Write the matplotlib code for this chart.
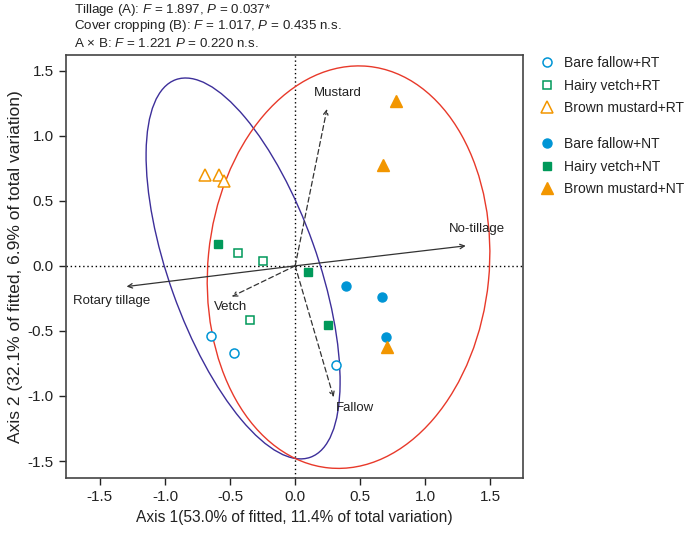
import matplotlib
matplotlib.use("Agg")
import matplotlib.pyplot as plt
import numpy as np
from matplotlib.lines import Line2D
from matplotlib.patches import Ellipse

plt.rcParams["font.family"] = ["Liberation Sans", "DejaVu Sans"]
plt.rcParams["mathtext.fontset"] = "custom"
plt.rcParams["mathtext.rm"] = "Liberation Sans"
plt.rcParams["mathtext.it"] = "Liberation Sans:italic"
plt.rcParams["axes.unicode_minus"] = False

# sample scores on axes 1 and 2
bf_rt_x = [-0.646, -0.467, 0.31]
bf_rt_y = [-0.54, -0.67, -0.76]
hv_rt_x = [-0.44, -0.246, -0.344]
hv_rt_y = [0.10, 0.038, -0.415]
bm_rt_x = [-0.695, -0.585, -0.549]
bm_rt_y = [0.695, 0.695, 0.654]
bf_nt_x = [0.392, 0.664, 0.70]
bf_nt_y = [-0.151, -0.241, -0.549]
hv_nt_x = [-0.592, 0.10, 0.254]
hv_nt_y = [0.169, -0.051, -0.456]
bm_nt_x = [0.777, 0.675, 0.705]
bm_nt_y = [1.27, 0.777, -0.62]

# biplot vectors
vec_names = ["No-tillage", "Rotary tillage", "Mustard", "Vetch", "Fallow"]
vec_x = [1.31, -1.295, 0.244, -0.487, 0.295]
vec_y = [0.154, -0.159, 1.205, -0.236, -1.01]
vec_dashed = [False, False, True, True, True]
vec_label_x = [1.40, -1.41, 0.33, -0.50, 0.46]
vec_label_y = [0.28, -0.27, 1.33, -0.32, -1.095]

# tillage group ellipses: centre x, centre y, width, height, angle
ell_rt = (-0.40, -0.02, 3.08, 1.14, 109.6)
ell_nt = (0.41, -0.01, 3.10, 2.16, 84.4)

BLUE = "#0095d5"
GREEN = "#00995a"
ORANGE = "#f29600"
TXT = "#222222"

fig = plt.figure(figsize=(6.85, 5.33), dpi=100)
ax = fig.add_axes([0.0964, 0.1032, 0.6671, 0.7936])

ax.axhline(0, color="black", lw=1.0, ls=(0, (1, 2)), zorder=1)
ax.axvline(0, color="black", lw=1.0, ls=(0, (1, 2)), zorder=1)

for (cx, cy, w, h, ang), col in [(ell_rt, "#3d2f9a"), (ell_nt, "#e8392a")]:
    ax.add_patch(Ellipse((cx, cy), w, h, angle=ang, fill=False, edgecolor=col, lw=1.0, zorder=2))

for name, x, y, dashed, lx, ly in zip(vec_names, vec_x, vec_y, vec_dashed, vec_label_x, vec_label_y):
    ax.annotate(
        "", xy=(x, y), xytext=(0, 0),
        arrowprops=dict(arrowstyle="->", color="#333333", lw=0.9,
                        linestyle=(0, (4, 2.5)) if dashed else "-",
                        shrinkA=0, shrinkB=0, mutation_scale=8),
        zorder=3,
    )
    ax.text(lx, ly, name, ha="center", va="center", fontsize=9.5, color=TXT, zorder=4)

ms = 6.5
ax.plot(bf_rt_x, bf_rt_y, "o", ms=ms, mfc="white", mec=BLUE, mew=1.1, ls="none", zorder=5)
ax.plot(hv_rt_x, hv_rt_y, "s", ms=ms - 0.5, mfc="white", mec=GREEN, mew=1.1, ls="none", zorder=5)
ax.plot(bm_rt_x, bm_rt_y, "^", ms=ms + 1.5, mfc="white", mec=ORANGE, mew=1.1, ls="none", zorder=5)
ax.plot(bf_nt_x, bf_nt_y, "o", ms=ms, color=BLUE, ls="none", zorder=5)
ax.plot(hv_nt_x, hv_nt_y, "s", ms=ms - 0.5, color=GREEN, ls="none", zorder=5)
ax.plot(bm_nt_x, bm_nt_y, "^", ms=ms + 1.5, color=ORANGE, ls="none", zorder=5)

ax.set_xlim(-1.76, 1.75)
ax.set_ylim(-1.63, 1.62)
ax.set_xticks([-1.5, -1.0, -0.5, 0.0, 0.5, 1.0, 1.5])
ax.set_yticks([-1.5, -1.0, -0.5, 0.0, 0.5, 1.0, 1.5])
ax.tick_params(direction="out", length=5, width=1.0, labelsize=11, colors=TXT, pad=4)
for s in ax.spines.values():
    s.set_color("#444444")
    s.set_linewidth(1.2)
ax.set_xlabel("Axis 1(53.0% of fitted, 11.4% of total variation)", fontsize=11.2, color=TXT, labelpad=4)
ax.set_ylabel("Axis 2 (32.1% of fitted, 6.9% of total variation)", fontsize=12.5, color=TXT, labelpad=3)

header = [
    "Tillage (A): $F$ = 1.897, $P$ = 0.037*",
    "Cover cropping (B): $F$ = 1.017, $P$ = 0.435 n.s.",
    "A \u00d7 B: $F$ = 1.221 $P$ = 0.220 n.s.",
]
for i, line in enumerate(header):
    fig.text(0.108, 1 - (10 + 16.5 * i) / 533, line, ha="left", va="center", fontsize=9.6, color=TXT)

rt_handles = [
    Line2D([], [], marker="o", ls="none", ms=ms, mfc="white", mec=BLUE, mew=1.1),
    Line2D([], [], marker="s", ls="none", ms=ms - 0.5, mfc="white", mec=GREEN, mew=1.1),
    Line2D([], [], marker="^", ls="none", ms=ms + 1.5, mfc="white", mec=ORANGE, mew=1.1),
]
nt_handles = [
    Line2D([], [], marker="o", ls="none", ms=ms, color=BLUE),
    Line2D([], [], marker="s", ls="none", ms=ms - 0.5, color=GREEN),
    Line2D([], [], marker="^", ls="none", ms=ms + 1.5, color=ORANGE),
]
rt_labels = ["Bare fallow+RT", "Hairy vetch+RT", "Brown mustard+RT"]
nt_labels = ["Bare fallow+NT", "Hairy vetch+NT", "Brown mustard+NT"]

kw = dict(loc="upper left", frameon=False, fontsize=10, handlelength=1.0, handletextpad=0.7,
          labelspacing=0.62, borderpad=0, borderaxespad=0, labelcolor=TXT)
fig.legend(rt_handles, rt_labels, bbox_to_anchor=(540 / 685, 1 - 56 / 533), **kw)
fig.legend(nt_handles, nt_labels, bbox_to_anchor=(540 / 685, 1 - 137 / 533), **kw)

fig.savefig("out.png", dpi=100, facecolor="white")
